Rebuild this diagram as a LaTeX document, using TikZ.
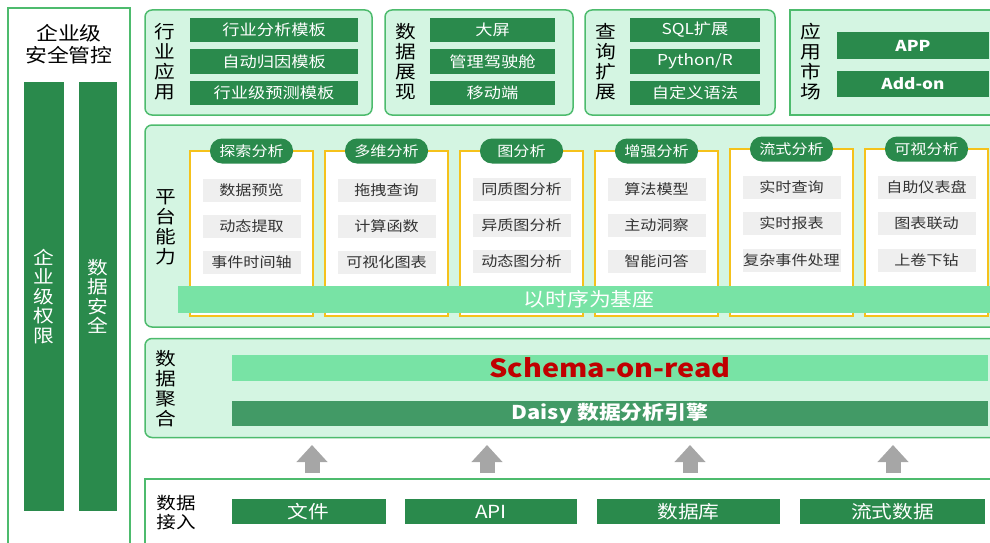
\documentclass[tikz,border=0pt]{standalone}
\usepackage{fontspec}
\setmainfont{Noto Sans CJK SC}[FakeStretch=1.15]
\usetikzlibrary{arrows.meta}

\definecolor{dkgreen}{HTML}{2A8A4C}
\definecolor{midgreen}{HTML}{429A66}
\definecolor{ltgreen}{HTML}{78E3A5}
\definecolor{panelfill}{HTML}{D4F5E2}
\definecolor{panelline}{HTML}{4DBB6D}
\definecolor{goldline}{HTML}{F5C21B}
\definecolor{itemgray}{HTML}{EFEFEF}
\definecolor{arrowgray}{HTML}{A6A6A6}
\definecolor{schemared}{HTML}{C00000}

\tikzset{
  sz/.style 2 args={minimum width=#1pt, minimum height=#2pt, inner sep=0pt, outer sep=0pt},
  panel/.style={draw=panelline, line width=1.5pt, fill=panelfill, rounded corners=7pt},
  sqpanel/.style={draw=panelline, line width=1.5pt, fill=panelfill},
  frame/.style={draw=panelline, line width=1.5pt, fill=white},
  vlabel/.style={align=center, inner sep=0pt, font=\fontsize{18}{20}\selectfont},
  tag/.style={fill=dkgreen, text=white, font=\fontsize{15}{17}\selectfont},
  column/.style={draw=goldline, line width=1.5pt, fill=white},
  pill/.style={fill=dkgreen, rounded corners=12pt, text=white, font=\fontsize{14}{16}\selectfont},
  func/.style={fill=itemgray, text=black!80, font=\fontsize{14}{16}\selectfont},
  band/.style={fill=ltgreen, text=white, font=\fontsize{19}{21}\selectfont},
  uparrow/.style={color=arrowgray, line width=15pt, -{Triangle[width=30pt,length=17pt]}}
}

\begin{document}
\begin{tikzpicture}[x=1pt,y=-1pt]
  \path[use as bounding box] (0,0) rectangle (990,543);
  \clip (0,0) rectangle (990,543);

  % left column
  \node[frame, sz={122}{540}] (S0) at (69,278) {};
  \node[vlabel, font=\fontsize{19}{22}\selectfont] (S1) at (69,44) {企业级\\安全管控};
  \node[tag, sz={40}{429}, align=center, font=\fontsize{18}{19.5}\selectfont] (S2) at (44,296.5) {企\\业\\级\\权\\限};
  \node[tag, sz={38}{429}, align=center, font=\fontsize{18}{19.5}\selectfont] (S3) at (98,296.5) {数\\据\\安\\全};

  % top row
  \node[panel, sz={227}{105}] (A0) at (258.5,62.5) {};
  \node[vlabel] (A1) at (165,62) {行\\业\\应\\用};
  \node[tag, sz={168}{24}] (A2) at (274,30) {行业分析模板};
  \node[tag, sz={168}{24}] (A3) at (274,61.5) {自动归因模板};
  \node[tag, sz={168}{24}] (A4) at (274,93) {行业级预测模板};

  \node[panel, sz={188}{105}] (D0) at (479,62.5) {};
  \node[vlabel] (D1) at (406,62) {数\\据\\展\\现};
  \node[tag, sz={125}{24}] (D2) at (492.5,30) {大屏};
  \node[tag, sz={125}{24}] (D3) at (492.5,61.5) {管理驾驶舱};
  \node[tag, sz={125}{24}] (D4) at (492.5,93) {移动端};

  \node[panel, sz={190}{105}] (Q0) at (680,62.5) {};
  \node[vlabel] (Q1) at (606,62) {查\\询\\扩\\展};
  \node[tag, sz={130}{24}] (Q2) at (695,30) {SQL扩展};
  \node[tag, sz={130}{24}] (Q3) at (695,61.5) {Python/R};
  \node[tag, sz={130}{24}] (Q4) at (695,93) {自定义语法};

  \node[sqpanel, sz={210}{105}] (M0) at (895,62.5) {};
  \node[vlabel] (M1) at (811,62) {应\\用\\市\\场};
  \node[tag, sz={152}{27}, font=\fontsize{15}{17}\bfseries] (M2) at (913,45.5) {APP};
  \node[tag, sz={152}{26}, font=\fontsize{15}{17}\bfseries] (M3) at (913,84) {Add-on};

  % platform
  \node[panel, sz={855}{202}] (B0) at (572.5,226) {};
  \node[vlabel] (B1) at (166,227) {平\\台\\能\\力};

  \node[column, sz={123}{165}] (C1) at (251.5,233.5) {};
  \node[pill, sz={83}{25}] (C1h) at (C1.north) {探索分析};
  \node[func, sz={98}{23}] (C1a) at (251.5,190) {数据预览};
  \node[func, sz={98}{23}] (C1b) at (251.5,226) {动态提取};
  \node[func, sz={98}{23}] (C1c) at (251.5,262) {事件时间轴};

  \node[column, sz={123}{165}] (C2) at (386.5,233.5) {};
  \node[pill, sz={83}{25}] (C2h) at (C2.north) {多维分析};
  \node[func, sz={98}{23}] (C2a) at (386.5,190) {拖拽查询};
  \node[func, sz={98}{23}] (C2b) at (386.5,226) {计算函数};
  \node[func, sz={98}{23}] (C2c) at (386.5,262) {可视化图表};

  \node[column, sz={123}{165}] (C3) at (521.5,233.5) {};
  \node[pill, sz={83}{25}] (C3h) at (C3.north) {图分析};
  \node[func, sz={98}{23}] (C3a) at (521.5,189) {同质图分析};
  \node[func, sz={98}{23}] (C3b) at (521.5,225) {异质图分析};
  \node[func, sz={98}{23}] (C3c) at (521.5,261) {动态图分析};

  \node[column, sz={123}{165}] (C4) at (656.5,233.5) {};
  \node[pill, sz={83}{25}] (C4h) at (C4.north) {增强分析};
  \node[func, sz={98}{23}] (C4a) at (656.5,189) {算法模型};
  \node[func, sz={98}{23}] (C4b) at (656.5,225) {主动洞察};
  \node[func, sz={98}{23}] (C4c) at (656.5,261) {智能问答};

  \node[column, sz={123}{167}] (C5) at (791.5,232.5) {};
  \node[pill, sz={83}{25}] (C5h) at (C5.north) {流式分析};
  \node[func, sz={98}{23}] (C5a) at (791.5,187) {实时查询};
  \node[func, sz={98}{23}] (C5b) at (791.5,223) {实时报表};
  \node[func, sz={98}{23}] (C5c) at (791.5,260) {复杂事件处理};

  \node[column, sz={123}{167}] (C6) at (926.5,232.5) {};
  \node[pill, sz={83}{25}] (C6h) at (C6.north) {可视分析};
  \node[func, sz={98}{23}] (C6a) at (926.5,187) {自助仪表盘};
  \node[func, sz={98}{23}] (C6b) at (926.5,223) {图表联动};
  \node[func, sz={98}{23}] (C6c) at (926.5,260) {上卷下钻};

  \node[band, sz={822}{27}] (B2) at (589,299.5) {以时序为基座};

  % aggregation
  \node[panel, sz={855}{99}] (G0) at (572.5,388) {};
  \node[vlabel] (G1) at (166,389) {数\\据\\聚\\合};
  \node[band, sz={756}{26}, text=schemared, font=\fontsize{25}{27}\bfseries] (G2) at (610,368) {Schema-on-read};
  \node[fill=midgreen, text=white, sz={756}{25}, font=\fontsize{19}{21}\bfseries] (G3) at (610,413.5) {Daisy 数据分析引擎};

  % access
  \node[frame, sz={855}{82}] (R0) at (572.5,520) {};
  \node[vlabel, font=\fontsize{17}{19}\selectfont] (R1) at (176,513) {数据\\接入};
  \node[tag, sz={154}{25}, font=\fontsize{18}{20}\selectfont] (R2) at (308.5,511.5) {文件};
  \node[tag, sz={172}{25}, font=\fontsize{18}{20}\selectfont] (R3) at (491,511.5) {API};
  \node[tag, sz={183}{25}, font=\fontsize{18}{20}\selectfont] (R4) at (688.5,511.5) {数据库};
  \node[tag, sz={185}{25}, font=\fontsize{18}{20}\selectfont] (R5) at (892.5,511.5) {流式数据};

  \path (312,473) coordinate (U1) (312,445) coordinate (V1);
  \path (487,473) coordinate (U2) (487,445) coordinate (V2);
  \path (690,473) coordinate (U3) (690,445) coordinate (V3);
  \path (893,473) coordinate (U4) (893,445) coordinate (V4);

  \draw[uparrow] (U1) -- (V1);
  \draw[uparrow] (U2) -- (V2);
  \draw[uparrow] (U3) -- (V3);
  \draw[uparrow] (U4) -- (V4);

\end{tikzpicture}
\end{document}
